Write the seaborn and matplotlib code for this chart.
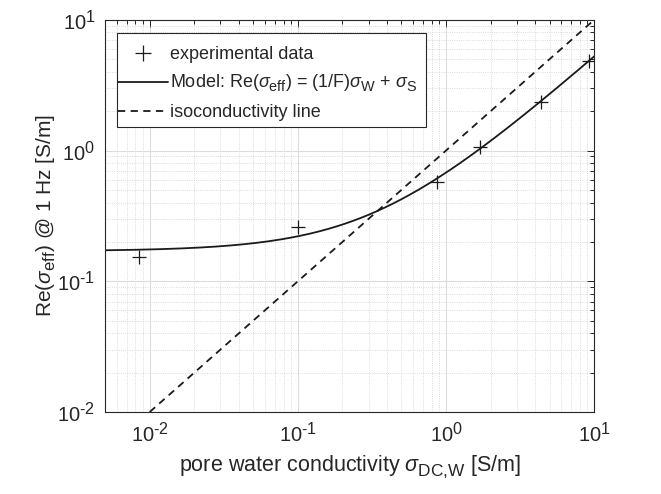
import numpy as np
import pandas as pd
import matplotlib
matplotlib.use("Agg")
import matplotlib.pyplot as plt
import matplotlib._mathtext as mtext
import seaborn as sns
from matplotlib.lines import Line2D
from matplotlib.patches import Rectangle

# measured points
sigma_w = [0.0085, 0.10, 0.87, 1.70, 4.40, 9.2]
sigma_eff = [0.153, 0.258, 0.577, 1.07, 2.33, 4.85]

# fitted model parameters
inv_F = 0.508
sigma_S = 0.170

decades = [0.01, 0.1, 1, 10]
decade_labels = [r'$10^{\text{-2}}$', r'$10^{\text{-1}}$', r'$10^{0}$', r'$10^{1}$']

x_model = np.logspace(np.log10(0.005), 1, 300)
model = pd.DataFrame({'x': x_model, 'y': inv_F * x_model + sigma_S})
iso = pd.DataFrame({'x': [0.01, 10.0], 'y': [0.01, 10.0]})
pts = pd.DataFrame({'x': sigma_w, 'y': sigma_eff})

sns.set_theme(style='white')
plt.rcParams['font.family'] = ['Liberation Sans', 'DejaVu Sans']
plt.rcParams['mathtext.fontset'] = 'custom'
plt.rcParams['mathtext.rm'] = 'Liberation Sans'
plt.rcParams['mathtext.it'] = 'Liberation Sans:italic'
plt.rcParams['mathtext.default'] = 'rm'
# MATLAB-style tex: bigger, lower subscripts
mtext.SHRINK_FACTOR = 0.8
mtext.FontConstantsBase.sub1 = 0.42

dark = '#262626'
fig = plt.figure(figsize=(6.61, 4.94), dpi=100)
ax = fig.add_axes([0.159, 0.166, 0.740, 0.794])

sns.scatterplot(data=pts, x='x', y='y', marker='+', s=110, color='k',
                linewidth=0.9, ax=ax, zorder=3)
sns.lineplot(data=model, x='x', y='y', color='k', linewidth=1.3, ax=ax)
sns.lineplot(data=iso, x='x', y='y', color='k', linewidth=1.3,
             linestyle=(0, (4, 3)), ax=ax)

ax.set_xscale('log')
ax.set_yscale('log')
ax.set_xlim(0.005, 10)
ax.set_ylim(0.01, 10)
ax.set_xticks(decades, decade_labels)
ax.set_yticks([0.01, 0.1, 1, 10], decade_labels)

ax.grid(True, which='major', color='#dcdcdc', linewidth=0.8, linestyle='-')
ax.grid(True, which='minor', color='#cfcfcf', linewidth=0.6, linestyle=':')
ax.set_axisbelow(True)
ax.tick_params(which='both', direction='in', top=True, right=True,
               colors=dark, labelsize=14.5, width=0.7)
ax.tick_params(which='major', length=5, pad=7)
ax.tick_params(which='minor', length=3)
for sp in ax.spines.values():
    sp.set_color(dark)
    sp.set_linewidth(0.8)

ax.set_xlabel(r'pore water conductivity $\it{\sigma}_{\text{DC,W}}$ [S/m]',
              fontsize=15.5, color=dark, labelpad=5)
ax.set_ylabel(r'Re($\it{\sigma}_{\rm eff}$) @ 1 Hz [S/m]',
              fontsize=15, color=dark)
ax.yaxis.set_label_coords(-0.097, 0.5)

# legend box drawn separately (MATLAB-like padding)
ax.add_patch(Rectangle((0.0245, 0.727), 0.632, 0.24, transform=ax.transAxes,
                       facecolor='white', edgecolor=dark, linewidth=0.8,
                       zorder=4.5))
handles = [
    Line2D([], [], color='k', marker='+', markersize=11, linestyle='none', markeredgewidth=0.9),
    Line2D([], [], color='k', linewidth=1.3),
    Line2D([], [], color='k', linewidth=1.3, linestyle=(0, (4, 3))),
]
labels = ['experimental data',
          r'Model: Re($\it{\sigma}_{\rm eff}$) = (1/F)$\it{\sigma}_{\rm W}$ + $\it{\sigma}_{\rm S}$',
          'isoconductivity line']
leg = ax.legend(handles, labels, loc='upper left', bbox_to_anchor=(0.0266, 0.933),
                fontsize=13, frameon=False, handlelength=2.75,
                handletextpad=0.1, borderpad=0, labelspacing=0.55,
                borderaxespad=0)
for t in leg.get_texts():
    t.set_color(dark)

fig.savefig('out.png', dpi=100, facecolor='white')
